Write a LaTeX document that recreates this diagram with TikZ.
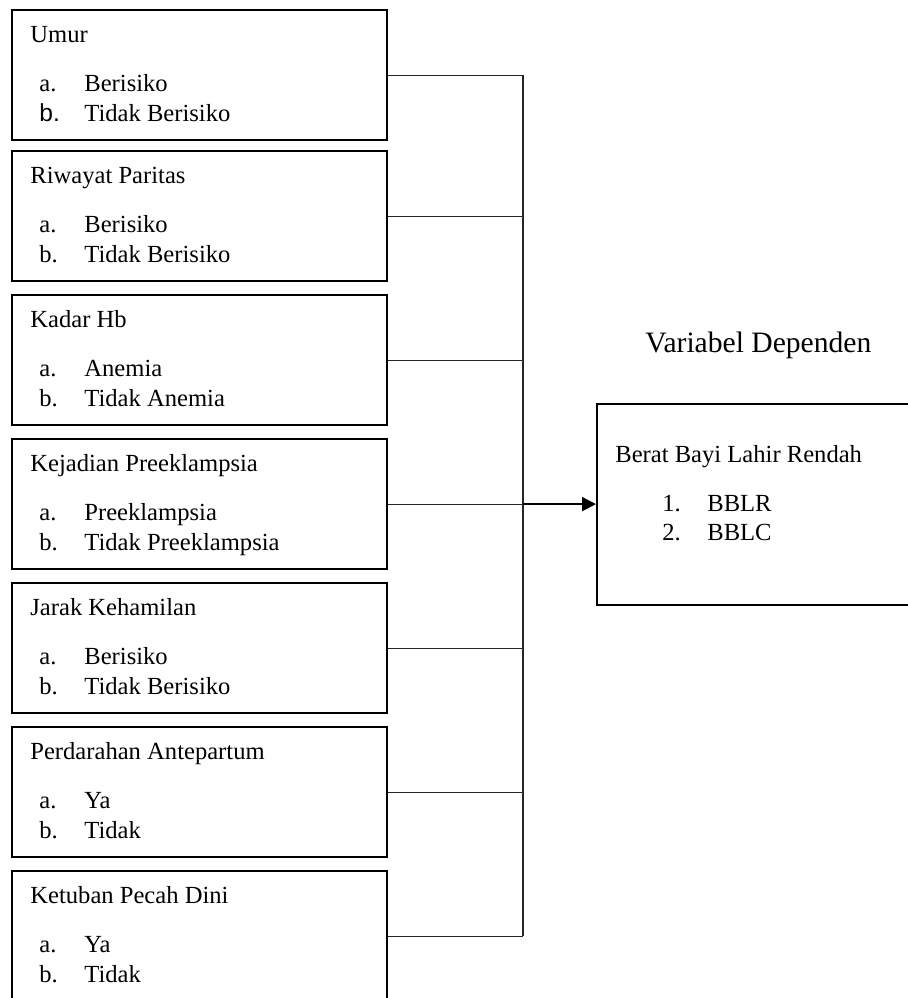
\documentclass[tikz,border=0pt]{standalone}
\usepackage{fontspec}
\setmainfont{Liberation Serif}
\newfontfamily\arialfont{Liberation Sans}
\usetikzlibrary{arrows.meta,positioning,calc}
\tikzset{
  varbox/.style={draw=black, line width=1.1pt, minimum width=187.5pt, minimum height=65pt, anchor=north west, inner sep=0pt},
  depbox/.style={draw=black, line width=1.1pt, minimum width=172pt, minimum height=100.5pt, anchor=north west, inner sep=0pt},
  txt/.style={anchor=base west, inner sep=0pt, font=\fontsize{12.3}{15}\selectfont},
  link/.style={draw=black!85, line width=0.55pt},
  arrow/.style={-{Triangle[length=7pt, width=7pt]}, line width=1.1pt},
}
% #1 label b, #2 name, #3 top, #4 title, #5 item a, #6 item b
\newcommand{\varfactor}[6][b.]{%
  \node[varbox] (#2) at (11,#3) {};
  \node[txt] (#2-title) at ([shift={(19,33)}]#2.north west) {#4};
  \node[txt] (#2-a) at ([shift={(28,82)}]#2.north west) {\makebox[22.5pt][l]{a.}#5};
  \node[txt] (#2-b) at ([shift={(28,112)}]#2.north west) {\makebox[22.5pt][l]{#1}#6};
}

\begin{document}
\begin{tikzpicture}[x=0.5pt, y=-0.5pt]
      \useasboundingbox (0,0) rectangle (908,998);

      % variabel independen
      \varfactor[{\arialfont b.}]{umur}{9}{Umur}{Berisiko}{Tidak Berisiko}
      \varfactor{paritas}{150}{Riwayat Paritas}{Berisiko}{Tidak Berisiko}
      \varfactor{hb}{294}{Kadar Hb}{Anemia}{Tidak Anemia}
      \varfactor{preek}{438}{Kejadian Preeklampsia}{Preeklampsia}{Tidak Preeklampsia}
      \varfactor{jarak}{582}{Jarak Kehamilan}{Berisiko}{Tidak Berisiko}
      \varfactor{perdarahan}{726}{Perdarahan Antepartum}{Ya}{Tidak}
      \varfactor{ketuban}{870}{Ketuban Pecah Dini}{Ya}{Tidak}

      % variabel dependen
      \node[depbox] (bblr) at (596,403) {};
      \node[txt, font=\fontsize{14.8}{18}\selectfont] (deptitle) at (645,352) {Variabel Dependen};
      \node[txt] (bblr-title) at ([shift={(19,59)}]bblr.north west) {Berat Bayi Lahir Rendah};
      \node[txt] (bblr-1) at ([shift={(66,108)}]bblr.north west) {\makebox[22.5pt][l]{1.}BBLR};
      \node[txt] (bblr-2) at ([shift={(66,137)}]bblr.north west) {\makebox[22.5pt][l]{2.}BBLC};

      % penghubung
      \coordinate (jx) at (523,0);
      \foreach \v in {umur,paritas,hb,preek,jarak,perdarahan,ketuban}
        \draw[link] (\v.east) -- (\v.east -| jx);
      \draw[link] (umur.east -| jx) -- (ketuban.east -| jx);
      \draw[arrow] (preek.east -| jx) -- (preek.east -| bblr.west);
    \end{tikzpicture}
\end{document}
